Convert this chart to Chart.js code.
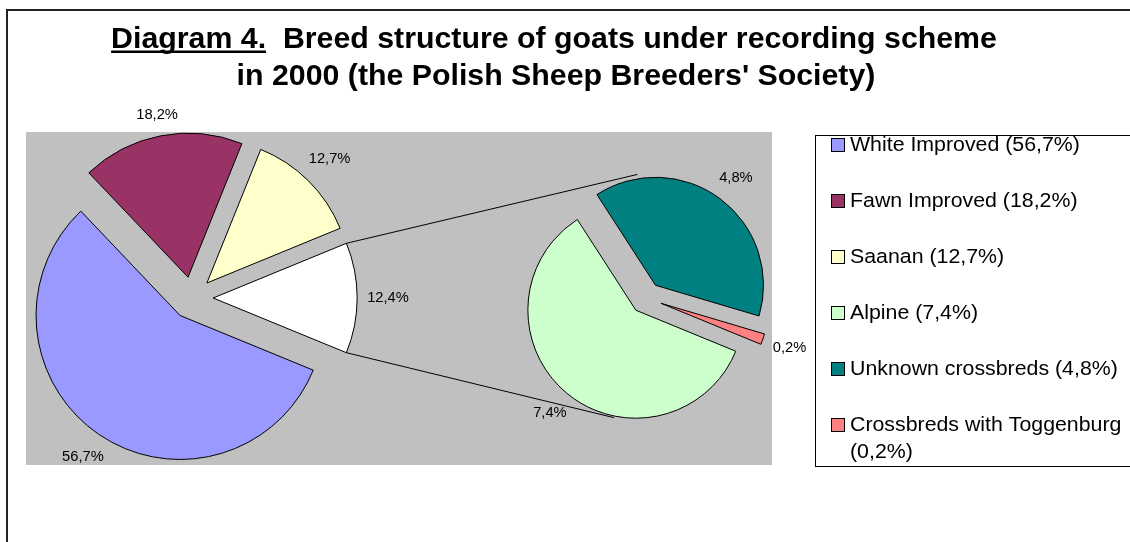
<!DOCTYPE html>
<html>
<head>
<meta charset="utf-8">
<title>Breed structure of goats 2000</title>
<script src="https://cdn.jsdelivr.net/npm/chart.js@4.4.1/dist/chart.umd.min.js"></script>
<style>
  html, body { margin: 0; padding: 0; background: #fff; }
  #wrap { position: relative; width: 1130px; height: 542px; overflow: hidden; }
  #wrap canvas { position: absolute; left: 0; top: 0; }
</style>
</head>
<body>
<div id="wrap">
  <canvas id="mainPie" width="1130" height="542"></canvas>
  <canvas id="subPie" width="1130" height="542"></canvas>
</div>
<script>
"use strict";

// data (percent of all recorded goats)
const mainNames = ["White Improved", "Fawn Improved", "Saanan", "Other"],
  mainValues = [56.7, 18.2, 12.7, 12.4],
  subNames = ["Alpine", "Unknown crossbreds", "Crossbreds with Toggenburg"],
  subValues = [7.4, 4.8, 0.2],
  titleHead = "Diagram 4.",
  titleLines = ["  Breed structure of goats under recording scheme",
    "in 2000 (the Polish Sheep Breeders' Society)"];

// styles
const mainColors = ["#9999ff", "#993366", "#ffffcc", "#ffffff"],
  subColors = ["#ccffcc", "#008080", "#ff8080"],
  W = 1130,
  H = 542,
  FONT = "'Liberation Sans', Arial, sans-serif",
  EXPLODE = 0.147, // slice explosion, share of radius
  pieA = { x: 192, y: 298, r: 144 },
  pieB = { x: 646, y: 298, r: 108 },
  plotBox = { left: 26, top: 132, right: 772, bottom: 465 },
  legendBox = { left: 815, top: 135, bottom: 466 };

const rotation = 90 + mainValues[3] / sum(mainValues) * 180; // "Other" centred on the right

function sum(arr) {
  return arr.reduce((a, b) => a + b, 0);
}

function fmt(v) {
  return v.toFixed(1).replace(".", ",") + "%";
}

// text in the picture is a bit wider than Arial, so stretch it sideways
function stretchText(ctx, text, x, y, align, sx) {
  const w = ctx.measureText(text).width * sx;
  let left = x;
  if (align === "center") left = x - w / 2;
  if (align === "right") left = x - w;
  ctx.save();
  ctx.translate(left, y);
  ctx.scale(sx, 1);
  ctx.textAlign = "left";
  ctx.fillText(text, 0, 0);
  ctx.restore();
  return w;
}

function padFor(geo) {
  const half = geo.r + 40;
  return { left: geo.x - half, right: W - geo.x - half, top: geo.y - half, bottom: H - geo.y - half };
}

// push every slice out along its middle angle (chart.js offset also grows big slices)
const explode = {
  id: "explode",
  afterUpdate(chart) {
    const area = chart.chartArea,
      cx = (area.left + area.right) / 2,
      cy = (area.top + area.bottom) / 2;
    chart.getDatasetMeta(0).data.forEach(arc => {
      const mid = (arc.startAngle + arc.endAngle) / 2,
        d = arc.outerRadius * EXPLODE;
      arc.x = cx + Math.cos(mid) * d;
      arc.y = cy + Math.sin(mid) * d;
    });
  }
};

const sliceLabels = {
  id: "sliceLabels",
  afterDatasetsDraw(chart) {
    const ctx = chart.ctx;
    const values = chart.data.datasets[0].data;
    ctx.save();
    ctx.font = "14px " + FONT;
    ctx.fillStyle = "#000";
    ctx.textBaseline = "middle";
    chart.getDatasetMeta(0).data.forEach((arc, i) => {
      const mid = (arc.startAngle + arc.endAngle) / 2,
        c = Math.cos(mid),
        s = Math.sin(mid),
        text = fmt(values[i]),
        w = ctx.measureText(text).width * 1.05,
        d = arc.outerRadius + 10 + Math.abs(c) * w / 2 + Math.abs(s) * 7.5;
      stretchText(ctx, text, arc.x + c * d, arc.y + s * d, "center", 1.05);
    });
    ctx.restore();
  }
};

const backdrop = {
  id: "backdrop",
  beforeDraw(chart) {
    const ctx = chart.ctx;
    ctx.save();
    ctx.fillStyle = "#fff";
    ctx.fillRect(0, 0, W, H);
    // outer frame (only top and left are in view)
    ctx.strokeStyle = "#222";
    ctx.lineWidth = 2;
    ctx.beginPath();
    ctx.moveTo(7, H);
    ctx.lineTo(7, 10);
    ctx.lineTo(W, 10);
    ctx.stroke();
    // plot area
    ctx.fillStyle = "#c0c0c0";
    ctx.fillRect(plotBox.left, plotBox.top, plotBox.right - plotBox.left, plotBox.bottom - plotBox.top);

    // title
    ctx.fillStyle = "#000";
    ctx.textBaseline = "alphabetic";
    ctx.font = "bold 29px " + FONT;
    const tsx = 1.045,
      headW = ctx.measureText(titleHead).width * tsx,
      restW = ctx.measureText(titleLines[0]).width * tsx,
      x0 = 554 - (headW + restW) / 2;
    stretchText(ctx, titleHead, x0, 48, "left", tsx);
    stretchText(ctx, titleLines[0], x0 + headW, 48, "left", tsx);
    ctx.fillRect(x0, 50.5, headW, 2.5);
    stretchText(ctx, titleLines[1], 556, 85, "center", tsx);

    // legend
    ctx.fillStyle = "#fff";
    ctx.fillRect(legendBox.left, legendBox.top, W, legendBox.bottom - legendBox.top);
    ctx.strokeStyle = "#000";
    ctx.lineWidth = 1;
    ctx.strokeRect(legendBox.left + 0.5, legendBox.top + 0.5, W, legendBox.bottom - legendBox.top);
    const names = mainNames.slice(0, 3).concat(subNames),
      vals = mainValues.slice(0, 3).concat(subValues),
      cols = mainColors.slice(0, 3).concat(subColors),
      lsx = 1.04;
    ctx.font = "20.5px " + FONT;
    ctx.textBaseline = "middle";
    names.forEach((n, i) => {
      const y = 145 + i * 56;
      ctx.fillStyle = cols[i];
      ctx.fillRect(831.5, y - 6.5, 13, 13);
      ctx.strokeRect(831.5, y - 6.5, 13, 13);
      ctx.fillStyle = "#000";
      // wrap long entries
      const words = (n + " (" + fmt(vals[i]) + ")").split(" ");
      let line = "", ly = y;
      words.forEach(wd => {
        const test = line ? line + " " + wd : wd;
        if (line && ctx.measureText(test).width * lsx > 285) {
          stretchText(ctx, line, 850, ly, "left", lsx);
          line = wd;
          ly += 27;
        } else {
          line = test;
        }
      });
      stretchText(ctx, line, 850, ly, "left", lsx);
    });
    ctx.restore();
  }
};

let mainChart;

const connectors = {
  id: "connectors",
  beforeDatasetsDraw(chart) {
    const ctx = chart.ctx,
      other = mainChart.getDatasetMeta(0).data[3],
      b = chart.getDatasetMeta(0).data[0],
      area = chart.chartArea,
      bx = (area.left + area.right) / 2,
      by = (area.top + area.bottom) / 2,
      rb = b.outerRadius * (1 + EXPLODE),
      ends = [[other.startAngle, 266], [other.endAngle, 105]];
    ctx.save();
    ctx.strokeStyle = "#000";
    ctx.lineWidth = 1;
    ends.forEach(([aAng, bDeg]) => {
      const bAng = bDeg * Math.PI / 180;
      ctx.beginPath();
      ctx.moveTo(other.x + Math.cos(aAng) * other.outerRadius, other.y + Math.sin(aAng) * other.outerRadius);
      ctx.lineTo(bx + Math.cos(bAng) * rb, by + Math.sin(bAng) * rb);
      ctx.stroke();
    });
    ctx.restore();
  }
};

function pieConfig(names, values, colors, geo, plugins) {
  return {
    type: "pie",
    data: {
      labels: names,
      datasets: [{
        data: values,
        backgroundColor: colors,
        borderColor: "#000",
        borderWidth: 1,
        borderJoinStyle: "miter"
      }]
    },
    options: {
      responsive: false,
      animation: false,
      devicePixelRatio: 1,
      events: [],
      rotation: rotation,
      radius: geo.r,
      layout: { padding: padFor(geo) },
      plugins: {
        legend: { display: false },
        tooltip: { enabled: false },
        title: { display: false }
      }
    },
    plugins: [explode].concat(plugins)
  };
}

mainChart = new Chart(document.getElementById("mainPie"),
  pieConfig(mainNames, mainValues, mainColors, pieA, [backdrop, sliceLabels]));
new Chart(document.getElementById("subPie"),
  pieConfig(subNames, subValues, subColors, pieB, [connectors, sliceLabels]));
</script>
</body>
</html>
